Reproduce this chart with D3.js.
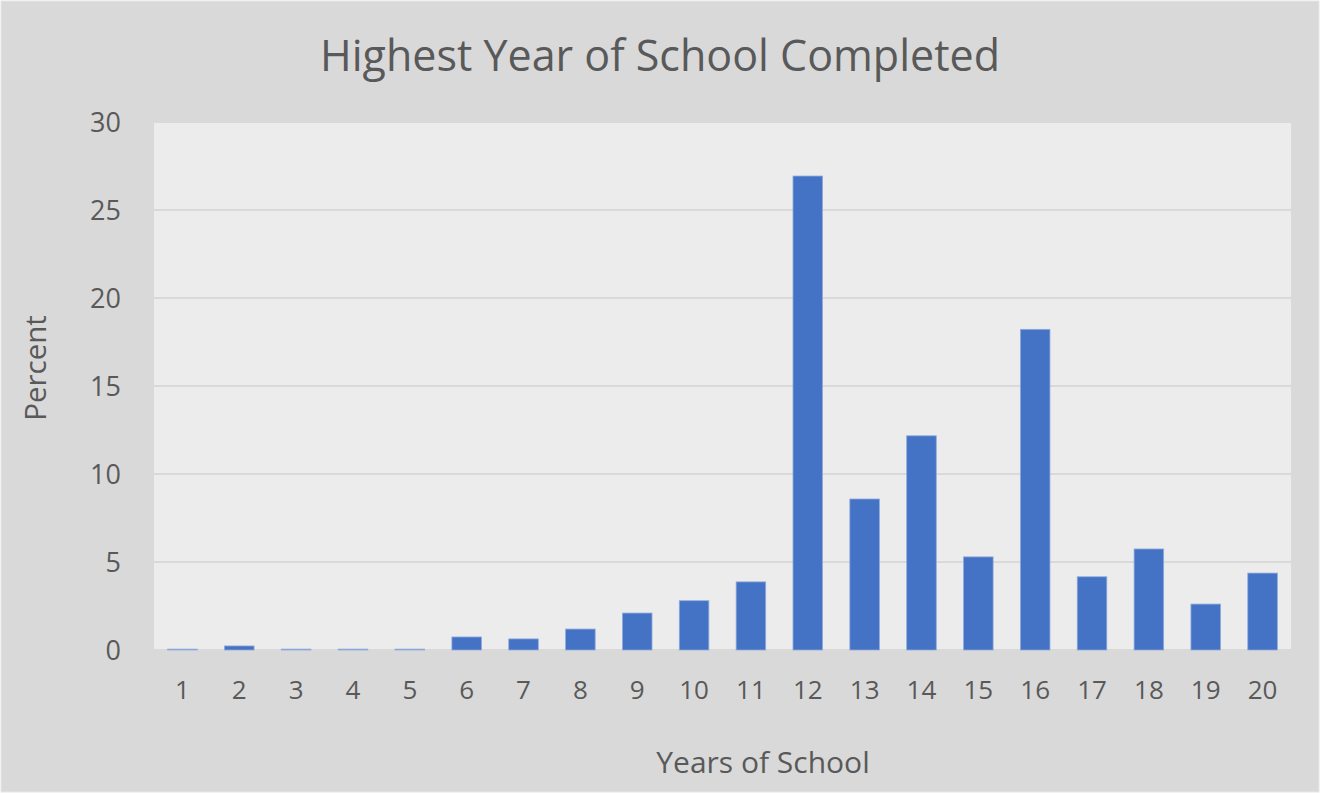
<!DOCTYPE html>
<html>
<head>
<meta charset="utf-8">
<script src="https://cdn.jsdelivr.net/npm/d3@7"></script>
<style>
  body { margin: 0; background: #ffffff; }
  text { font-family: "Open Sans", "Noto Sans", sans-serif; fill: #595959; }
</style>
</head>
<body>
<div id="chart"></div>
<script>
// Chart Data
const years = ["1", "2", "3", "4", "5", "6", "7", "8", "9", "10",
  "11", "12", "13", "14", "15", "16", "17", "18", "19", "20"];
const percents = [0.05, 0.23, 0.05, 0.05, 0.05, 0.74, 0.63, 1.19, 2.1, 2.8,
  3.87, 26.93, 8.58, 12.17, 5.29, 18.22, 4.16, 5.74, 2.61, 4.37];
const yTicks = [0, 5, 10, 15, 20, 25, 30];

// Size of the SVG Container
const width = 1320;
const height = 793;
const plot = { left: 154, right: 1291, top: 122, bottom: 650 };

const svg = d3.select("#chart")
  .append("svg")
  .attr("width", width)
  .attr("height", height);

// Background
svg.append("rect")
  .attr("x", 1).attr("y", 1)
  .attr("width", width - 2).attr("height", height - 2)
  .attr("fill", "#d9d9d9")
  .attr("stroke", "#e6e6e6");

svg.append("rect")
  .attr("x", plot.left).attr("y", plot.top)
  .attr("width", plot.right - plot.left)
  .attr("height", plot.bottom - plot.top)
  .attr("fill", "#ececec");

// Scales
const xScale = d3.scaleBand()
  .domain(years)
  .range([plot.left, plot.right])
  .paddingInner(0.48)
  .paddingOuter(0.24);

const yScale = d3.scaleLinear()
  .domain([0, 30])
  .range([plot.bottom, plot.top]);

// Grid lines
svg.append("g")
  .selectAll("line")
  .data(yTicks)
  .enter()
  .append("line")
  .attr("x1", plot.left)
  .attr("x2", plot.right)
  .attr("y1", d => yScale(d))
  .attr("y2", d => yScale(d))
  .attr("stroke", "#d9d9d9")
  .attr("stroke-width", 2);

// Bars
svg.append("g")
  .selectAll("rect")
  .data(percents)
  .enter()
  .append("rect")
  .attr("x", (d, i) => xScale(years[i]))
  .attr("y", d => yScale(d))
  .attr("width", xScale.bandwidth())
  .attr("height", d => yScale(0) - yScale(d))
  .attr("fill", "#4472c4")
  .attr("stroke", "#8faadc")
  .attr("stroke-width", 0.8);

// Y axis labels
const yAxis = d3.axisLeft(yScale).tickValues(yTicks).tickSize(0).tickPadding(33);
svg.append("g")
  .attr("transform", `translate(${plot.left},0)`)
  .call(yAxis)
  .call(g => g.select(".domain").remove())
  .selectAll("text")
  .style("font-size", "27px")
  .attr("font-family", null)
  .attr("fill", "#595959")
  .attr("dy", "0.35em");

// X axis labels
const xAxis = d3.axisBottom(xScale).tickSize(0).tickPadding(31);
svg.append("g")
  .attr("transform", `translate(0,${plot.bottom})`)
  .call(xAxis)
  .call(g => g.select(".domain").remove())
  .selectAll("text")
  .style("font-size", "26px")
  .attr("font-family", null)
  .attr("fill", "#595959");

// Title
svg.append("text")
  .attr("x", 660)
  .attr("y", 71)
  .attr("text-anchor", "middle")
  .style("font-size", "43px")
  .text("Highest Year of School Completed");

// Axis titles
svg.append("text")
  .attr("x", 763)
  .attr("y", 773)
  .attr("text-anchor", "middle")
  .style("font-size", "30px")
  .text("Years of School");

svg.append("text")
  .attr("transform", "translate(46,368) rotate(-90)")
  .attr("text-anchor", "middle")
  .style("font-size", "29.5px")
  .text("Percent");
</script>
</body>
</html>
